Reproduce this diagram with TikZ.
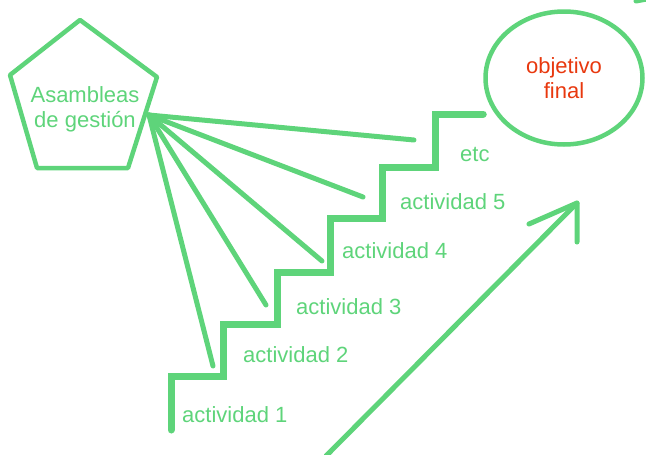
\documentclass[tikz,border=0pt]{standalone}
\usepackage{fontspec}
\setmainfont{Liberation Sans}
\usetikzlibrary{shapes.geometric}
\definecolor{gr}{RGB}{94,212,122}
\definecolor{rd}{RGB}{232,56,14}
\begin{document}
\begin{tikzpicture}[x=1pt,y=-1pt,
  lbl/.style={text=gr,font=\fontsize{22}{25}\selectfont,inner sep=0pt,anchor=west},
  stair/.style={draw=gr,line width=7pt,line cap=round,line join=miter},
  fan/.style={draw=gr,line width=5pt,line cap=round},
  outline/.style={draw=gr,line width=4.5pt,line join=round}]
\useasboundingbox (0,0) rectangle (646,455);
% pentagon
\coordinate (p1) at (80,20);
\coordinate (p2) at (157,77);
\coordinate (p3) at (128,168);
\coordinate (p4) at (37,168);
\coordinate (p5) at (10,75);
\draw[outline] (p1) -- (p2) -- (p3) -- (p4) -- (p5) -- cycle;
\node[text=gr,font=\fontsize{22}{25}\selectfont,align=center,inner sep=0pt] (asm) at (85,109) {Asambleas\\de gestión};
% goal ellipse
\node[ellipse,outline,minimum width=157pt,minimum height=133pt,inner sep=0pt,
      text=rd,font=\fontsize{22}{25}\selectfont,align=center] (goal) at (564,78) {objetivo\\final};
% stairs
\coordinate (s0) at (171,430);
\draw[stair] (s0) -- (171,376) -- (223,376) -- (223,324) -- (277,324) -- (277,272)
  -- (330,272) -- (330,218) -- (382,218) -- (382,167) -- (435,167) -- (435,114) -- (goal.west |- 0,114);
% labels
\node[lbl] (a1) at (182,415) {actividad 1};
\node[lbl] (a2) at (243,355) {actividad 2};
\node[lbl] (a3) at (296,307) {actividad 3};
\node[lbl] (a4) at (342,251) {actividad 4};
\node[lbl] (a5) at (400,202) {actividad 5};
\node[lbl] (etc) at (460,154) {etc};
% fan
\coordinate (hub) at (149,115);
\coordinate (f1) at (414,140);
\coordinate (f2) at (363,197);
\coordinate (f3) at (322,261);
\coordinate (f4) at (266,305);
\coordinate (f5) at (213,366);
\foreach \f in {f1,f2,f3,f4,f5} \draw[fan] (hub) -- (\f);
% big arrow
\coordinate (t0) at (326,456);
\coordinate (t1) at (577,203);
\coordinate (b1) at (529,224);
\coordinate (b2) at (577,242);
\draw[fan] (t0) -- (t1);
\draw[fan,line join=round] (b1) -- (t1) -- (b2);
% corner fragment
\coordinate (c0) at (636,1);
\coordinate (c1) at (647,-1);
\draw[fan] (c0) -- (c1);
\end{tikzpicture}
\end{document}
